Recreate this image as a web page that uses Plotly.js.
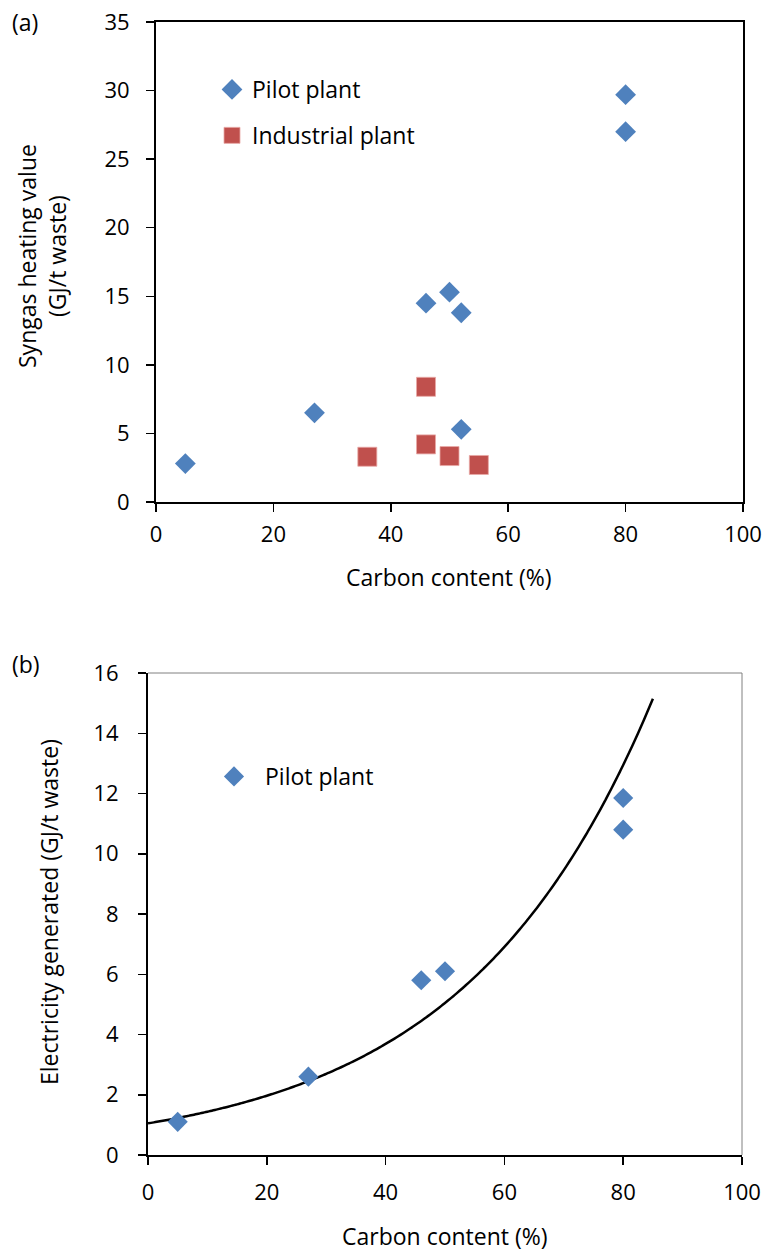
<!DOCTYPE html>
<html>
<head>
<meta charset="utf-8">
<script src="https://cdn.plot.ly/plotly-3.0.1.min.js"></script>
<style>
  html, body { margin: 0; padding: 0; background: #fff; }
  #chart { width: 767px; height: 1251px; }
</style>
</head>
<body>
<div id="chart"></div>
<script>
// (a) syngas heating value vs carbon content
const pilotCarbonA = [5, 27, 46, 50, 52, 52, 80, 80];
const pilotHeatA   = [2.8, 6.5, 14.5, 15.3, 13.8, 5.3, 29.7, 27.0];
const indCarbonA   = [36, 46, 46, 50, 55];
const indHeatA     = [3.3, 8.4, 4.2, 3.35, 2.7];

// (b) electricity generated vs carbon content
const pilotCarbonB = [5, 27, 46, 50, 80, 80];
const pilotElecB   = [1.1, 2.6, 5.8, 6.1, 11.85, 10.8];

// exponential trendline y = A * exp(B * x), drawn over 0..85 % carbon
const TREND_A = 1.05;
const TREND_B = 0.0314;
const TREND_X_MAX = 85;

const xTicks = [0, 20, 40, 60, 80, 100];
const yTicksA = [0, 5, 10, 15, 20, 25, 30, 35];
const yTicksB = [0, 2, 4, 6, 8, 10, 12, 14, 16];

const trendX = [];
const trendY = [];
for (let x = 0; x <= TREND_X_MAX; x += 0.5) {
  trendX.push(x);
  trendY.push(TREND_A * Math.exp(TREND_B * x));
}

const FONT = 'Open Sans, Noto Sans, sans-serif';
const BLUE = '#4F81BD';
const RED = '#C0504D';

const W = 767, H = 1251;
const px = v => v / W;
const py = v => 1 - v / H;

const traces = [
  {
    x: pilotCarbonA, y: pilotHeatA, xaxis: 'x', yaxis: 'y',
    type: 'scatter', mode: 'markers', name: 'Pilot plant',
    legend: 'legend', legendgroup: 'a1',
    marker: { symbol: 'diamond', size: 16, color: BLUE, line: { width: 0 } }
  },
  {
    x: indCarbonA, y: indHeatA, xaxis: 'x', yaxis: 'y',
    type: 'scatter', mode: 'markers', name: 'Industrial plant',
    legend: 'legend', legendgroup: 'a2',
    marker: { symbol: 'square', size: 19, color: RED, line: { width: 0.8, color: '#E8A8A6' } }
  },
  {
    x: trendX, y: trendY, xaxis: 'x2', yaxis: 'y2',
    type: 'scatter', mode: 'lines', showlegend: false, hoverinfo: 'skip',
    line: { color: '#000', width: 2.5, shape: 'spline' }
  },
  {
    x: pilotCarbonB, y: pilotElecB, xaxis: 'x2', yaxis: 'y2',
    type: 'scatter', mode: 'markers', name: 'Pilot plant',
    legend: 'legend2',
    marker: { symbol: 'diamond', size: 15.5, color: BLUE, line: { width: 0 } }
  }
];

const axisCommon = {
  showgrid: false, zeroline: false, showline: true,
  linecolor: '#000', linewidth: 2,
  ticks: 'outside', ticklen: 8, tickwidth: 1.5, tickcolor: '#000',
  tickfont: { family: FONT, size: 22, color: '#000' },
  fixedrange: true
};

const TITLE_FONT = { family: FONT, size: 23, color: '#000' };

const layout = {
  width: W, height: H,
  margin: { l: 0, r: 0, t: 0, b: 0 },
  paper_bgcolor: '#fff', plot_bgcolor: '#fff',
  font: { family: FONT, size: 22, color: '#000' },
  xaxis: Object.assign({}, axisCommon, {
    domain: [px(156), px(743)], anchor: 'y', range: [0, 100],
    tickvals: xTicks, mirror: true, ticklabelstandoff: 4
  }),
  yaxis: Object.assign({}, axisCommon, {
    domain: [py(502), py(22)], anchor: 'x', range: [0, 35],
    tickvals: yTicksA, mirror: true, ticklabelstandoff: 12
  }),
  xaxis2: Object.assign({}, axisCommon, {
    domain: [px(148), px(742)], anchor: 'y2', range: [0, 100],
    tickvals: xTicks, ticklabelstandoff: 9
  }),
  yaxis2: Object.assign({}, axisCommon, {
    domain: [py(1155), py(673)], anchor: 'x2', range: [0, 16],
    tickvals: yTicksB, ticklabelstandoff: 15
  }),
  legend: {
    x: px(212), y: py(68), xanchor: 'left', yanchor: 'top',
    bgcolor: 'rgba(0,0,0,0)', borderwidth: 0,
    traceorder: 'grouped', tracegroupgap: 13, itemwidth: 30,
    font: TITLE_FONT
  },
  legend2: {
    x: px(203), y: py(755), xanchor: 'left', yanchor: 'top',
    bgcolor: 'rgba(0,0,0,0)', borderwidth: 0, itemwidth: 52,
    font: TITLE_FONT
  },
  shapes: [
    // thin grey frame on the open sides of panel (b)
    { type: 'line', xref: 'x2 domain', yref: 'y2 domain', x0: 0, x1: 1, y0: 1, y1: 1,
      line: { color: '#808080', width: 1 } },
    { type: 'line', xref: 'x2 domain', yref: 'y2 domain', x0: 1, x1: 1, y0: 0, y1: 1,
      line: { color: '#808080', width: 1 } }
  ],
  annotations: [
    { text: '(a)', xref: 'paper', yref: 'paper', x: px(10), y: py(22),
      xanchor: 'left', yanchor: 'middle', showarrow: false, font: TITLE_FONT },
    { text: '(b)', xref: 'paper', yref: 'paper', x: px(10), y: py(664),
      xanchor: 'left', yanchor: 'middle', showarrow: false, font: TITLE_FONT },
    { text: 'Carbon content (%)', xref: 'paper', yref: 'paper', x: px(449), y: py(577),
      xanchor: 'center', yanchor: 'middle', showarrow: false, font: TITLE_FONT },
    { text: 'Carbon content (%)', xref: 'paper', yref: 'paper', x: px(445), y: py(1236),
      xanchor: 'center', yanchor: 'middle', showarrow: false, font: TITLE_FONT },
    { text: 'Syngas heating value<br>(GJ/t waste)', xref: 'paper', yref: 'paper',
      x: px(42), y: py(256), xanchor: 'center', yanchor: 'middle', textangle: -90,
      showarrow: false, font: TITLE_FONT },
    { text: 'Electricity generated (GJ/t waste)', xref: 'paper', yref: 'paper',
      x: px(49), y: py(912), xanchor: 'center', yanchor: 'middle', textangle: -90,
      showarrow: false, font: TITLE_FONT }
  ]
};

Plotly.newPlot('chart', traces, layout, { staticPlot: true, displayModeBar: false });
</script>
</body>
</html>
